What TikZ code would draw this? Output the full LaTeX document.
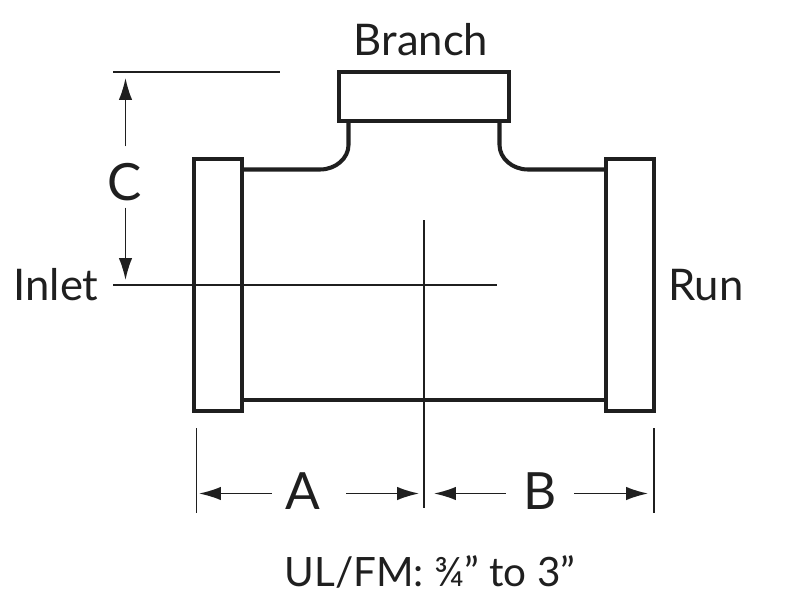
\documentclass[tikz,border=0pt]{standalone}
\usepackage{fontspec}
\setmainfont{Lato}
\usetikzlibrary{arrows.meta}
\def\flange{-- ++(48,0) -- ++(0,252) -- ++(-48,0) -- cycle}
\tikzset{
    pipeline/.style={line width=1.15pt,draw=black!88},
    thinline/.style={line width=0.45pt,draw=black!88},
    dimarrow/.style={thinline,-{Latex[length=6.2pt,width=3.8pt]}},
    biglabel/.style={font=\fontsize{14.6}{15}\selectfont,text=black!88,inner sep=0pt},
    smalllabel/.style={font=\fontsize{12.4}{13}\selectfont,text=black!88,inner sep=0pt}
}

\begin{document}
\begin{tikzpicture}[x=0.01cm,y=-0.01cm]
    \useasboundingbox (0,0) rectangle (800,600);
    \draw[pipeline] (194,159) \flange;
    \draw[pipeline] (606,159) \flange;
    \draw[pipeline] (339,72) rectangle (509,121);
    \draw[pipeline] (242,169.5) -- (320,169.5) .. controls (336,169.5) and (348.5,158) .. (348.5,145) -- (348.5,121);
    \draw[pipeline] (606,169.5) -- (528,169.5) .. controls (512,169.5) and (499.5,158) .. (499.5,145) -- (499.5,121);
    \draw[pipeline] (242,400) -- (606,400);
    \draw[thinline] (113,72) -- (280,72);
    \draw[thinline] (113,285) -- (497,285);
    \draw[thinline] (424,220) -- (424,508);
    \draw[thinline] (196.5,428) -- (196.5,513);
    \draw[thinline] (654,428) -- (654,513);
    \node[smalllabel] (branch) at (421,40) {Branch};
    \node[smalllabel] (inlet) at (56,285) {Inlet};
    \node[smalllabel] (run) at (706,285) {Run};
    \node[smalllabel,font=\fontsize{11.5}{12}\selectfont] (rating) at (430,572) {UL/FM: ¾” to 3”};
    \node[biglabel] (labA) at (303,491) {A};
    \node[biglabel] (labB) at (540,491) {B};
    \node[biglabel] (labC) at (125,182) {C};
    \coordinate (tipAleft) at (199,493.5);
    \coordinate (tipAright) at (419,493.5);
    \coordinate (tipBleft) at (434,493.5);
    \coordinate (tipBright) at (648,493.5);
    \coordinate (tipCtop) at (125.5,78);
    \coordinate (tipCbot) at (125.5,280);
    \draw[dimarrow] ([xshift=-0.13cm]labA.west |- tipAleft) -- (tipAleft);
    \draw[dimarrow] ([xshift=0.25cm]labA.east |- tipAright) -- (tipAright);
    \draw[dimarrow] ([xshift=-0.17cm]labB.west |- tipBleft) -- (tipBleft);
    \draw[dimarrow] ([xshift=0.17cm]labB.east |- tipBright) -- (tipBright);
    \draw[dimarrow] ([yshift=0.16cm]labC.north -| tipCtop) -- (tipCtop);
    \draw[dimarrow] ([yshift=-0.06cm]labC.south -| tipCbot) -- (tipCbot);
\end{tikzpicture}
\end{document}
